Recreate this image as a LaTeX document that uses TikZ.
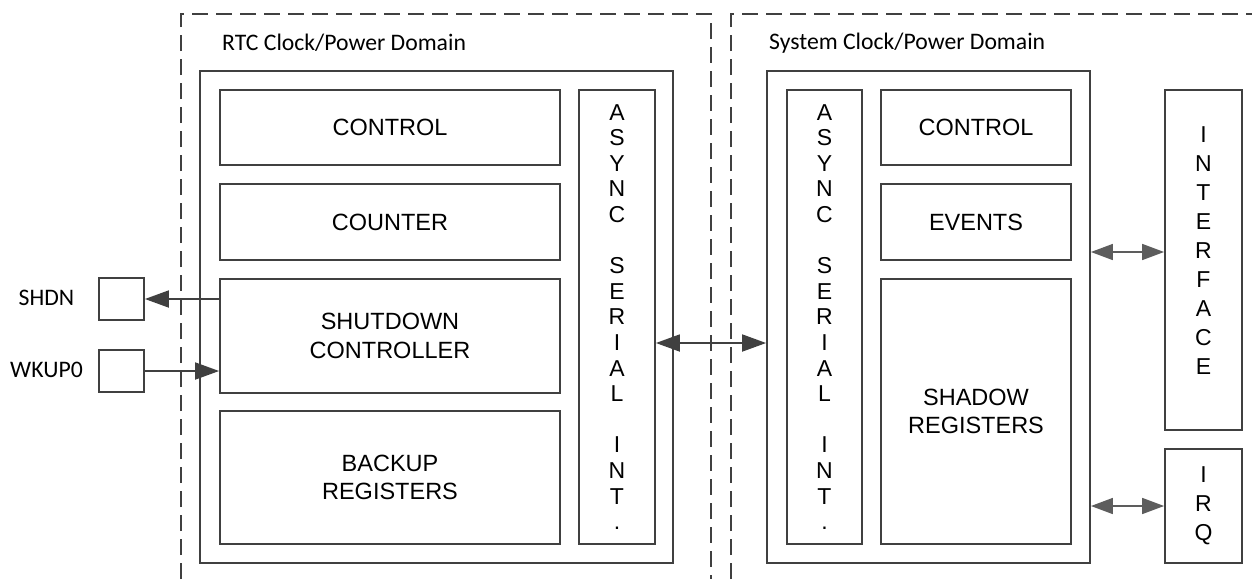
\documentclass[tikz,border=0pt]{standalone}
\usepackage{fontspec}
\setmainfont{Liberation Sans}
\newfontfamily\calfont{Carlito}
\usetikzlibrary{arrows.meta}
\definecolor{ln}{HTML}{404040}
\tikzset{
  blk/.style={draw=ln, line width=1.8pt, rectangle, inner sep=0pt, align=center,
    font=\fontsize{23.5}{28.7}\selectfont},
  vert/.style={blk, font=\fontsize{23}{25.6}\selectfont},
  vtxt/.style={inner sep=0pt, align=center, font=\fontsize{23}{28.9}\selectfont},
  lbl/.style={inner sep=0pt, font=\calfont\fontsize{23.7}{26}\selectfont},
  dom/.style={draw=ln, line width=1.6pt, dash pattern=on 16pt off 8pt},
  arr/.style={draw=ln, line width=1.8pt, -{Triangle[length=24pt,width=17pt]}},
  darr/.style={draw=ln, line width=1.8pt, {Triangle[length=24pt,width=17pt]}-{Triangle[length=24pt,width=17pt]}},
  darrs/.style={draw=ln!85, line width=1.6pt, {Triangle[length=22pt,width=16pt]}-{Triangle[length=22pt,width=16pt]}}
}
\begin{document}
\begin{tikzpicture}[x=1pt,y=-1pt]
\useasboundingbox (0,0) rectangle (1252,579);
% domains
\draw[dom] (181,579) -- (181,14) -- (711,14) -- (711,579);
\draw[dom] (731,579) -- (731,14) -- (1252,14);
\node[lbl, anchor=west] (rtcl) at (222,43) {RTC Clock/Power Domain};
\node[lbl, anchor=west] (sysl) at (769,43) {System Clock/Power Domain};
% left block
\node[blk, minimum width=473pt, minimum height=492pt] (bigL) at (436.5,317) {};
\node[blk, minimum width=340pt, minimum height=75pt] (ctlL) at (390,127.5) {CONTROL};
\node[blk, minimum width=340pt, minimum height=76pt] (cntL) at (390,222) {COUNTER};
\node[blk, minimum width=340pt, minimum height=114pt] (shd) at (390,336) {SHUTDOWN\\CONTROLLER};
\node[blk, minimum width=340pt, minimum height=133pt] (bak) at (390,477.5) {BACKUP\\REGISTERS};
\node[vert, minimum width=76pt, minimum height=454pt] (asyL) at (617,317)
  {A\\S\\Y\\N\\C\\\mbox{}\\S\\E\\R\\I\\A\\L\\\mbox{}\\I\\N\\T\\.};
% right block
\node[blk, minimum width=323pt, minimum height=492pt] (bigR) at (928.5,317) {};
\node[vert, minimum width=75pt, minimum height=454pt] (asyR) at (824.5,317)
  {A\\S\\Y\\N\\C\\\mbox{}\\S\\E\\R\\I\\A\\L\\\mbox{}\\I\\N\\T\\.};
\node[blk, minimum width=190pt, minimum height=75pt] (ctlR) at (976,127.5) {CONTROL};
\node[blk, minimum width=190pt, minimum height=76pt] (evt) at (976,222) {EVENTS};
\node[blk, minimum width=190pt, minimum height=265pt] (shw) at (976,411.5) {SHADOW\\REGISTERS};
\node[blk, minimum width=77pt, minimum height=340pt] (intf) at (1203.5,260) {};
\node[vtxt] (intfT) at (1203.5,250.5) {I\\N\\T\\E\\R\\F\\A\\C\\E};
\node[blk, minimum width=77pt, minimum height=114pt, font=\fontsize{23}{28.9}\selectfont] (irq) at (1203.5,506) {I\\R\\Q};
% pins
\node[blk, minimum width=45pt, minimum height=42pt] (sbox) at (121.5,299) {};
\node[blk, minimum width=45pt, minimum height=42pt] (wbox) at (121.5,371) {};
\node[lbl] (shdnl) at (46.5,298) {SHDN};
\node[lbl] (wkupl) at (46.5,370) {WKUP0};
% connectors
\draw[arr] (shd.west |- sbox.east) -- (sbox.east);
\draw[arr] (wbox.east) -- (shd.west |- wbox.east);
\coordinate (mid) at (700,343);
\draw[darr] (asyL.east |- mid) -- (bigR.west |- mid);
\coordinate (ifa) at (1120,252);
\draw[darrs] (bigR.east |- ifa) -- (intf.west |- ifa);
\draw[darrs] (bigR.east |- irq.west) -- (irq.west);
\end{tikzpicture}
\end{document}
